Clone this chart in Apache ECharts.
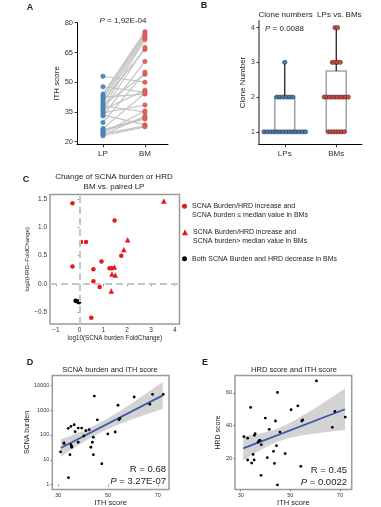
<!DOCTYPE html>
<html><head><meta charset="utf-8">
<script src="https://cdn.jsdelivr.net/npm/echarts@6/dist/echarts.min.js"></script>
<style>html,body{margin:0;padding:0;background:#fff}#c{width:381px;height:507px}</style>
</head><body><div id="c"></div>
<script>
const FONT = '"Liberation Sans", Arial, Helvetica, sans-serif';

// ---- Panel A: ITH score, paired LP vs BM ----
const aGroups = ['LP', 'BM'];
const aTicks = [20, 35, 50, 65, 80];
const aLP = [53, 47.7, 44, 43, 42.5, 41.5, 40.5, 39.5, 38.5, 38, 37, 36, 35.5, 34.5, 33.5, 33, 29.7, 26.7, 26, 25.4, 24.5, 24, 23.5, 23];
const aBM = [50, 45, 75.5, 74.5, 44, 73.5, 66.5, 72.5, 54, 35, 71.5, 46, 67.5, 38.5, 28.5, 60.5, 55, 44.5, 32, 31.5, 35.5, 28, 33, 27.5];

// ---- Panel B: clone numbers ----
const bGroups = ['LPs', 'BMs'];
const bTicks = [1, 2, 3, 4];
const bLP = [1,1,1,1,1,1,1,1,1,1,1,1,1,1,2,2,2,2,2,2,3];
const bBM = [1,1,1,1,1,1,1,2,2,2,2,2,2,2,2,2,2,3,3,3,3,4,4];
const bBoxLP = [1, 1, 1, 2, 3];      // min, Q1, median, Q3, max
const bBoxBM = [1, 1, 2, 2.75, 4];

// ---- Panel C: change of SCNA burden / HRD ----
const cTicksX = [-1, 0, 1, 2, 3, 4];
const cTicksY = [-0.5, 0, 0.5, 1, 1.5];
const cUpLowX = [-0.30, 1.47, 0.06, 0.27, 1.75, 0.92, -0.30, 0.58, 1.26, 1.36, 0.58, 0.84, 0.49];
const cUpLowY = [1.42, 1.12, 0.74, 0.74, 0.50, 0.40, 0.31, 0.26, 0.28, 0.28, 0.05, -0.05, -0.59];
const cUpHighX = [3.54, 2.02, 1.86, 1.46, 1.36, 1.50, 1.33];
const cUpHighY = [1.46, 0.78, 0.61, 0.30, 0.18, 0.16, -0.12];
const cDownX = [-0.17, -0.10, -0.03];
const cDownY = [-0.29, -0.30, -0.32];
const cNames = [
  'SCNA Burden/HRD increase and\nSCNA burden \u2264 median value in BMs',
  'SCNA Burden/HRD increase and\nSCNA burden> median value in BMs',
  'Both SCNA Burden and HRD decrease in BMs'
];

// ---- Panel D: SCNA burden vs ITH ----
const dTicksX = [30, 50, 70];
const dTicksY = [1, 10, 100, 1000, 10000];
const dITH = [30.9, 32.3, 32.3, 34.0, 35.1, 36.4, 34.7, 34.1, 35.1, 35.4, 35.4, 36.8, 38.0, 39.4, 38.0, 40.3, 41.1, 42.4, 43.1, 43.7, 44.1, 44.1, 44.5, 45.7, 47.5, 49.9, 52.9, 54.0, 54.4, 54.8, 60.5, 66.8, 67.9, 72.2];
const dSCNA = [21, 48, 45, 185, 222, 259, 16, 1.9, 41, 35, 32, 136, 190, 190, 51, 91, 149, 163, 32, 51, 81, 16, 3730, 410, 6.9, 110, 132, 1580, 410, 465, 3400, 1740, 4370, 4370];
const dFitX = [31, 72];
const dFitY = [29.9, 3970];
const dBandX = [31, 35, 40, 45, 50, 55, 60, 65, 72];
const dBandLo = [13.3, 24.6, 51, 100, 176, 284, 440, 662, 1150];
const dBandHi = [67, 94, 149, 252, 471, 960, 2050, 4480, 13700];

// ---- Panel E: HRD vs ITH ----
const eTicksX = [30, 50, 70];
const eTicksY = [20, 40, 60];
const eITH = [31.3, 32.8, 32.8, 34.0, 34.4, 35.0, 35.4, 35.5, 35.8, 37.0, 37.4, 37.8, 38.3, 38.2, 39.9, 40.7, 41.5, 43.2, 43.6, 44.0, 44.4, 44.8, 44.8, 45.8, 47.9, 50.3, 53.0, 54.2, 54.6, 55.0, 60.5, 66.9, 67.9, 72.1];
const eHRD = [33.1, 32.2, 18.8, 51.0, 16.9, 22.2, 18.8, 33.9, 34.9, 29.8, 30.6, 30.8, 28.2, 9.4, 44.5, 20.2, 37.6, 24.1, 16.7, 42.7, 27.6, 60.2, 3.5, 35.9, 22.7, 49.6, 52.0, 14.9, 42.7, 43.3, 67.3, 38.8, 48.6, 45.1];
const eFitX = [31, 72];
const eFitY = [25.9, 49.9];
const eBandX = [31, 35, 40, 45, 50, 55, 60, 65, 72];
const eBandLo = [18.5, 22.3, 26.6, 30.1, 32.5, 34.0, 35.1, 36.0, 37.2];
const eBandHi = [33.3, 34.3, 35.8, 38.1, 41.7, 46.0, 50.7, 55.6, 62.6];

// ---------------- helpers ----------------
const lg = Math.log10;
const ident = v => v;
function zip(xs, ys) { return xs.map((x, i) => [x, ys[i]]); }
function swarm(vals, center, step) {
  const counts = {}; vals.forEach(v => counts[v] = (counts[v] || 0) + 1);
  const idx = {};
  return vals.map(v => {
    idx[v] = idx[v] === undefined ? 0 : idx[v] + 1;
    return [center + (idx[v] - (counts[v] - 1) / 2) * step, v];
  });
}
function vAxis(o) {
  const ticks = o.ticks;
  return {
    type: 'value', gridIndex: o.grid, min: o.min, max: o.max,
    splitLine: { show: false },
    axisLine: { show: !!o.line, lineStyle: { color: o.lineColor || '#000', width: o.lineWidth || 1 } },
    axisTick: { show: true, customValues: ticks, length: o.tickLen || 2.5, lineStyle: { color: o.tickColor || '#000', width: 0.8 } },
    axisLabel: { customValues: ticks, fontSize: o.fs || 7, color: '#333', margin: o.margin || 4, formatter: o.fmt },
    name: o.name, nameLocation: 'middle', nameGap: o.nameGap || 12,
    nameTextStyle: { fontSize: o.nameFs || 8, color: '#222' }
  };
}
function txt(x, y, text, st) {
  return { type: 'text', x: x, y: y, silent: true, z: 100,
    style: Object.assign({ text: text, fill: '#222', font: '8px ' + FONT, align: 'center', verticalAlign: 'middle' }, st || {}) };
}
function bandSeries(xi, yi, bx, lo, hi, tf) {
  return {
    type: 'custom', xAxisIndex: xi, yAxisIndex: yi, z: 1, silent: true, clip: true,
    data: bx.map((x, i) => [x, tf(lo[i]), tf(hi[i])]),
    encode: { x: 0, y: [1, 2] },
    renderItem: function (params, api) {
      if (params.dataIndex !== 0) return null;
      const top = bx.map((x, i) => api.coord([x, tf(hi[i])]));
      const bot = bx.map((x, i) => api.coord([x, tf(lo[i])])).reverse();
      return { type: 'polygon', shape: { points: top.concat(bot) }, style: { fill: '#d3d3d3' } };
    }
  };
}

// ---------------- series ----------------
const series = [];
// A: pair lines
aLP.forEach((v, i) => {
  series.push({ type: 'line', xAxisIndex: 0, yAxisIndex: 0, data: [[1, v], [2, aBM[i]]],
    symbol: 'none', silent: true, z: 1, lineStyle: { color: '#c3c3c3', width: 1.2 } });
});
series.push({ type: 'scatter', xAxisIndex: 0, yAxisIndex: 0, z: 3, symbolSize: 4.5,
  data: aLP.map(v => [1, v]), itemStyle: { color: '#5089c4', borderColor: '#3f72a6', borderWidth: 0.4, opacity: 1 } });
series.push({ type: 'scatter', xAxisIndex: 0, yAxisIndex: 0, z: 3, symbolSize: 4.5,
  data: aBM.map(v => [2, v]), itemStyle: { color: '#e0625a', borderColor: '#c04a42', borderWidth: 0.4, opacity: 1 } });

// B: box (Q1..Q3 with median), black whiskers, dots
const boxOnly = b => [b[1], b[1], b[2], b[3], b[3]];
series.push({ type: 'boxplot', xAxisIndex: 1, yAxisIndex: 1, z: 1, boxWidth: [20, 20],
  data: [boxOnly(bBoxLP), boxOnly(bBoxBM)], itemStyle: { color: '#fff', borderColor: '#a6a6a6', borderWidth: 1.6 } });
series.push({ type: 'line', xAxisIndex: 2, yAxisIndex: 1, z: 2, symbol: 'none',
  data: [[1, bBoxLP[3]], [1, bBoxLP[4]]], lineStyle: { color: '#111', width: 1.2 } });
series.push({ type: 'line', xAxisIndex: 2, yAxisIndex: 1, z: 2, symbol: 'none',
  data: [[2, bBoxBM[3]], [2, bBoxBM[4]]], lineStyle: { color: '#111', width: 1.2 } });
series.push({ type: 'scatter', xAxisIndex: 2, yAxisIndex: 1, z: 4, symbolSize: 4.3,
  data: swarm(bLP, 1, 0.062), itemStyle: { color: '#3f7db5', borderColor: '#222', borderWidth: 0.5, opacity: 1 } });
series.push({ type: 'scatter', xAxisIndex: 2, yAxisIndex: 1, z: 4, symbolSize: 4.3,
  data: swarm(bBM, 2, 0.052), itemStyle: { color: '#d9483a', borderColor: '#222', borderWidth: 0.5, opacity: 1 } });

// C
series.push({ type: 'line', xAxisIndex: 3, yAxisIndex: 2, data: [], z: 1, silent: true,
  markLine: { silent: true, symbol: 'none', label: { show: false },
    lineStyle: { color: '#c6c6c6', type: [7, 4], width: 2 },
    data: [{ xAxis: 0 }, { yAxis: 0 }] } });
series.push({ name: cNames[0], type: 'scatter', xAxisIndex: 3, yAxisIndex: 2, z: 3, symbol: 'circle', symbolSize: 4.5,
  data: zip(cUpLowX, cUpLowY), itemStyle: { color: '#e41a1c', opacity: 1 } });
series.push({ name: cNames[1], type: 'scatter', xAxisIndex: 3, yAxisIndex: 2, z: 3, symbol: 'triangle', symbolSize: 5.5,
  data: zip(cUpHighX, cUpHighY), itemStyle: { color: '#e41a1c', opacity: 1 } });
series.push({ name: cNames[2], type: 'scatter', xAxisIndex: 3, yAxisIndex: 2, z: 3, symbol: 'circle', symbolSize: 4.5,
  data: zip(cDownX, cDownY), itemStyle: { color: '#000', opacity: 1 } });

// D
series.push(bandSeries(4, 3, dBandX, dBandLo, dBandHi, lg));
series.push({ type: 'line', xAxisIndex: 4, yAxisIndex: 3, symbol: 'none', z: 2, silent: true,
  data: dFitX.map((x, i) => [x, lg(dFitY[i])]), lineStyle: { color: '#3a5ba8', width: 1.8 } });
series.push({ type: 'scatter', xAxisIndex: 4, yAxisIndex: 3, z: 3, symbolSize: 2.8,
  data: dITH.map((x, i) => [x, lg(dSCNA[i])]), itemStyle: { color: '#000', opacity: 1 } });

// E
series.push(bandSeries(5, 4, eBandX, eBandLo, eBandHi, ident));
series.push({ type: 'line', xAxisIndex: 5, yAxisIndex: 4, symbol: 'none', z: 2, silent: true,
  data: zip(eFitX, eFitY), lineStyle: { color: '#3a5ba8', width: 1.8 } });
series.push({ type: 'scatter', xAxisIndex: 5, yAxisIndex: 4, z: 3, symbolSize: 2.8,
  data: zip(eITH, eHRD), itemStyle: { color: '#000', opacity: 1 } });

const frame = { show: true, borderColor: '#9a9a9a', borderWidth: 1.5, backgroundColor: 'transparent', outerBoundsMode: 'none' };

const LH = 8.5;
const option = {
  animation: false,
  textStyle: { fontFamily: FONT },
  grid: [
    { left: 77, top: 22.7, width: 91, height: 121.6, outerBoundsMode: 'none' },
    { left: 259, top: 20.7, width: 103, height: 123.6, outerBoundsMode: 'none' },
    Object.assign({ left: 50, top: 194.5, width: 129.5, height: 129.5 }, frame),
    Object.assign({ left: 52.3, top: 375.5, width: 116.7, height: 114 }, frame),
    Object.assign({ left: 235, top: 375.5, width: 116.7, height: 114 }, frame)
  ],
  xAxis: [
    vAxis({ grid: 0, min: 0.38, max: 2.55, ticks: [1, 2], line: true, tickLen: 3, fs: 8, margin: 5,
      fmt: v => aGroups[Math.round(v) - 1] }),
    { type: 'category', gridIndex: 1, data: bGroups, boundaryGap: true,
      axisLine: { show: true, lineStyle: { color: '#000', width: 1 } },
      axisTick: { show: true, alignWithLabel: true, length: 3, lineStyle: { color: '#000', width: 0.8 } },
      axisLabel: { fontSize: 8, color: '#333', margin: 5 } },
    { type: 'value', gridIndex: 1, min: 0.5, max: 2.5, show: false },
    vAxis({ grid: 2, min: -1.245, max: 4.2, ticks: cTicksX, tickColor: '#777', tickLen: 2, fs: 6.5, margin: 3,
      fmt: v => (v < 0 ? '\u2212' + Math.abs(v) : String(v)),
      name: 'log10(SCNA burden FoldChange)', nameGap: 9, nameFs: 6.3 }),
    vAxis({ grid: 3, min: 27.6, max: 74.5, ticks: dTicksX, tickColor: '#777', tickLen: 2, fs: 5.5, margin: 3,
      name: 'ITH score', nameGap: 8, nameFs: 7.5 }),
    vAxis({ grid: 4, min: 27.7, max: 74.7, ticks: eTicksX, tickColor: '#777', tickLen: 2, fs: 5.5, margin: 3,
      name: 'ITH score', nameGap: 8, nameFs: 7.5 })
  ],
  yAxis: [
    vAxis({ grid: 0, min: 18.7, max: 80, ticks: aTicks, line: true, tickLen: 2.5, fs: 7.5, margin: 4,
      name: 'ITH score', nameGap: 14, nameFs: 8 }),
    vAxis({ grid: 1, min: 0.64, max: 4.2, ticks: bTicks, line: true, lineColor: '#8a8a8a', lineWidth: 2,
      tickLen: 2.5, fs: 7, margin: 4, name: 'Clone Number', nameGap: 8.5, nameFs: 8 }),
    vAxis({ grid: 2, min: -0.7, max: 1.575, ticks: cTicksY, tickColor: '#777', tickLen: 2, fs: 6.5, margin: 3,
      fmt: v => (v < 0 ? '\u2212' + Math.abs(v).toFixed(1) : v.toFixed(1)),
      name: 'log2(HRD\u2212FoldChange)', nameGap: 14, nameFs: 6 }),
    vAxis({ grid: 3, min: -0.2, max: 4.4, ticks: dTicksY.map(lg), tickColor: '#777', tickLen: 2, fs: 5.5, margin: 3,
      fmt: v => String(Math.round(Math.pow(10, v))),
      name: 'SCNA burden', nameGap: 17, nameFs: 7 }),
    vAxis({ grid: 4, min: 0.7, max: 70.6, ticks: eTicksY, tickColor: '#777', tickLen: 2, fs: 5.5, margin: 3,
      name: 'HRD score', nameGap: 9, nameFs: 7 })
  ],
  legend: [0, 1, 2].map(i => ({
    data: [{ name: cNames[i], icon: i === 1 ? 'triangle' : 'circle' }],
    left: 182, top: [193.5, 219.5, 254.5][i], orient: 'vertical', padding: 0, itemGap: 0,
    itemWidth: i === 1 ? 6 : 5, itemHeight: i === 1 ? 6 : 5, selectedMode: false,
    formatter: name => (i === 2 ? name : ' \n' + name),
    textStyle: { fontSize: 7, color: '#222', lineHeight: LH }
  })),
  graphic: [
    txt(30, 8, 'A', { font: 'bold 9px ' + FONT }),
    txt(204, 6, 'B', { font: 'bold 9px ' + FONT }),
    txt(26, 180, 'C', { font: 'bold 9px ' + FONT }),
    txt(30, 363, 'D', { font: 'bold 9px ' + FONT }),
    txt(205, 363, 'E', { font: 'bold 9px ' + FONT }),
    txt(123, 20.5, '{i|P} = 1,92E-04', { rich: { i: { fontStyle: 'italic', fontSize: 8, fontFamily: FONT } } }),
    txt(310, 15, 'Clone numbers  LPs vs. BMs'),
    txt(265, 29, '{i|P} = 0.0088', { align: 'left', rich: { i: { fontStyle: 'italic', fontSize: 8, fontFamily: FONT } } }),
    txt(114, 177, 'Change of SCNA burden or HRD'),
    txt(114, 187, 'BM vs. paired LP'),
    txt(110, 370, 'SCNA burden and ITH score', { font: '7.5px ' + FONT }),
    txt(294, 370, 'HRD score and ITH score', { font: '7.5px ' + FONT }),
    txt(166, 469, 'R = 0.68', { align: 'right', font: '9.5px ' + FONT }),
    txt(166, 481.5, '{i|P} = 3.27E-07', { align: 'right', font: '9.5px ' + FONT, rich: { i: { fontStyle: 'italic', fontSize: 9.5, fontFamily: FONT } } }),
    txt(347, 470, 'R = 0.45', { align: 'right', font: '9.5px ' + FONT }),
    txt(347, 482, '{i|P} = 0.0022', { align: 'right', font: '9.5px ' + FONT, rich: { i: { fontStyle: 'italic', fontSize: 9.5, fontFamily: FONT } } })
  ],
  series: series
};
const chart = echarts.init(document.getElementById('c'), null, { renderer: 'canvas' });
chart.setOption(option);
</script>
</body></html>
